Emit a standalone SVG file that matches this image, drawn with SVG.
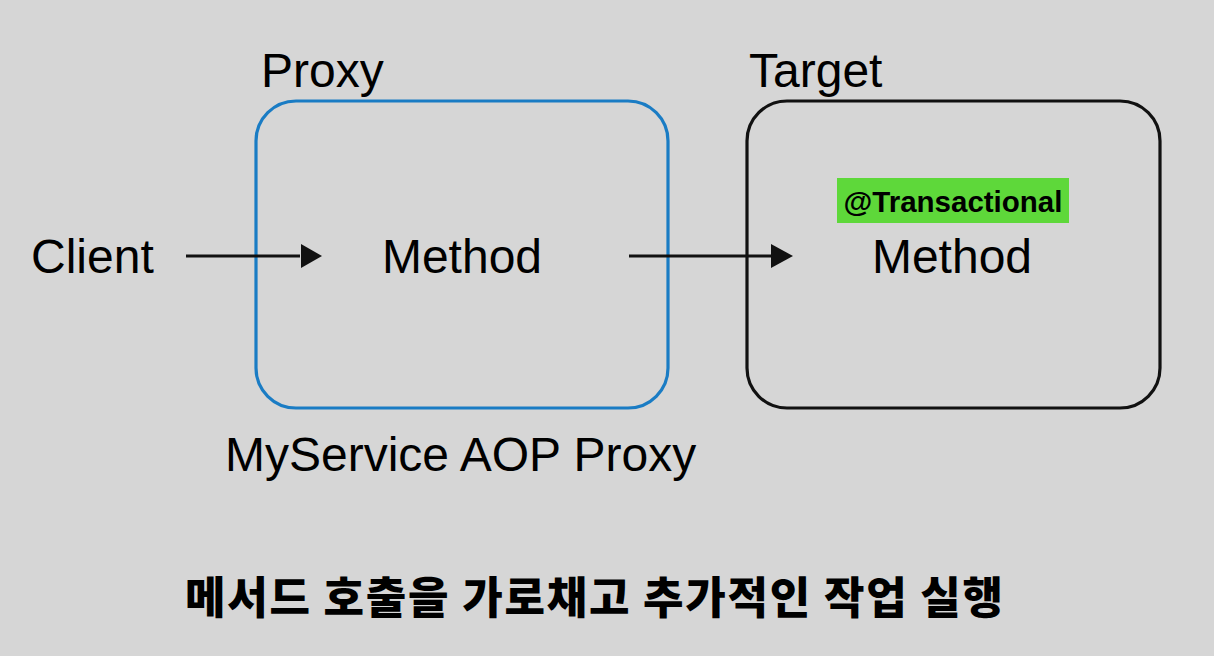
<svg xmlns="http://www.w3.org/2000/svg" width="1214" height="656" viewBox="0 0 1214 656">
<defs>
<style>
.t{font-family:"Liberation Sans",Arial,sans-serif;font-size:48px;fill:#000}
.box{fill:none;stroke-width:3.2}
.conn{stroke:#111;stroke-width:3.2;fill:none}
</style>
</defs>
<rect width="1214" height="656" fill="#d6d6d6"/>
<g id="proxy">
<rect class="box" x="256" y="101" width="412" height="307" rx="40" stroke="#1a7cc4"/>
<text class="t" x="261" y="87">Proxy</text>
<text class="t" x="462" y="273" text-anchor="middle">Method</text>
<text class="t" x="225" y="471">MyService AOP Proxy</text>
</g>
<g id="target">
<rect class="box" x="747" y="101" width="413" height="307" rx="40" stroke="#111"/>
<text class="t" x="749" y="87">Target</text>
<rect x="837" y="178" width="232" height="45" fill="#5ed83a"/>
<text x="953" y="212" text-anchor="middle" style="font-family:'Liberation Sans',Arial,sans-serif;font-weight:bold;font-size:29.5px">@Transactional</text>
<text class="t" x="952" y="273" text-anchor="middle">Method</text>
</g>
<g id="client">
<text class="t" x="31" y="273">Client</text>
</g>
<g id="connectors">
<line class="conn" x1="186" y1="256" x2="300" y2="256"/>
<path d="M301,244 L322,256 L301,268 Z" fill="#111"/>
<line class="conn" x1="629" y1="256" x2="772" y2="256"/>
<path d="M771,244 L793,256 L771,268 Z" fill="#111"/>
</g>
<g id="caption">
<text x="594" y="614" text-anchor="middle" textLength="818" style="font-family:'Noto Sans CJK KR',sans-serif;font-weight:900;font-size:44px">메서드 호출을 가로채고 추가적인 작업 실행</text>
</g>
</svg>
